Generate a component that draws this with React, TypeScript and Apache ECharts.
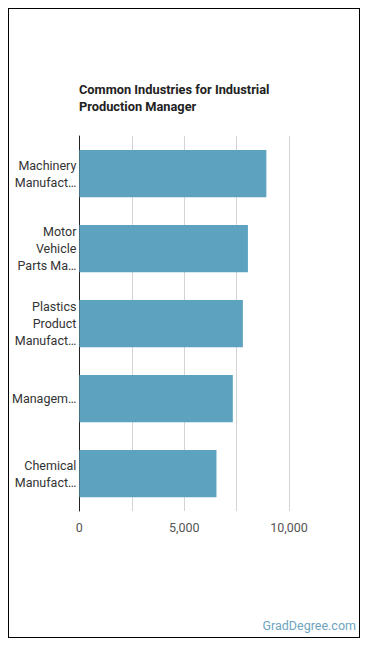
import React, { useEffect, useRef } from "react";
import * as echarts from "echarts";

// Industries (top to bottom) with their wrapped, shortened axis labels
const industries = [
  "Machinery\nManufact…",
  "Motor\nVehicle\nParts Ma…",
  "Plastics\nProduct\nManufact…",
  "Managem…",
  "Chemical\nManufact…",
];
// Number of industrial production managers employed in each industry
const employment = [8920, 8040, 7800, 7320, 6540];
// Value-axis ticks: gridlines every 2,500, labels only every 5,000
const tickStep = 2500;
const labelledTicks = [0, 5000, 10000];
const axisMax = 10000;

const titleText = "Common Industries for Industrial\nProduction Manager";
const sourceText = "GradDegree.com";

export default function App() {
  const ref = useRef<HTMLDivElement>(null);

  useEffect(() => {
    if (!ref.current) return;
    const chart = echarts.init(ref.current, null, { renderer: "svg" });
    chart.setOption({
      animation: false,
      textStyle: { fontFamily: "Roboto, sans-serif" },
      title: {
        text: titleText,
        left: 70,
        top: 72,
        padding: 0,
        textStyle: {
          fontSize: 12.8,
          fontWeight: "bold",
          color: "#222",
          lineHeight: 17,
        },
      },
      graphic: [
        {
          type: "text",
          right: 3,
          top: 610,
          style: {
            text: sourceText,
            fill: "#6ea4c0",
            font: "12.5px Roboto, sans-serif",
          },
        },
      ],
      grid: { left: 70, right: 70, top: 127, bottom: 126, containLabel: false },
      xAxis: {
        type: "value",
        min: 0,
        max: axisMax,
        interval: tickStep,
        axisLine: { show: false },
        axisTick: { show: false },
        splitLine: { lineStyle: { color: "#d4d4d4", width: 1 } },
        axisLabel: {
          fontSize: 12.5,
          color: "#555",
          margin: 10,
          formatter: (v: number) =>
            labelledTicks.includes(v) ? v.toLocaleString("en-US") : "",
        },
      },
      yAxis: {
        type: "category",
        inverse: true,
        data: industries,
        axisLine: { show: true, lineStyle: { color: "#222", width: 1 } },
        axisTick: { show: false },
        axisLabel: {
          fontSize: 12.5,
          color: "#333",
          lineHeight: 17,
          margin: 3,
          align: "right",
        },
      },
      series: [
        {
          type: "bar",
          data: employment,
          barCategoryGap: "37%",
          itemStyle: { color: "#5da3c0" },
        },
      ],
    });
    return () => chart.dispose();
  }, []);

  return (
    <div
      style={{
        width: 352,
        height: 630,
        boxSizing: "border-box",
        border: "1px solid #000",
      }}
    >
      <div ref={ref} style={{ width: 350, height: 628 }} />
    </div>
  );
}
